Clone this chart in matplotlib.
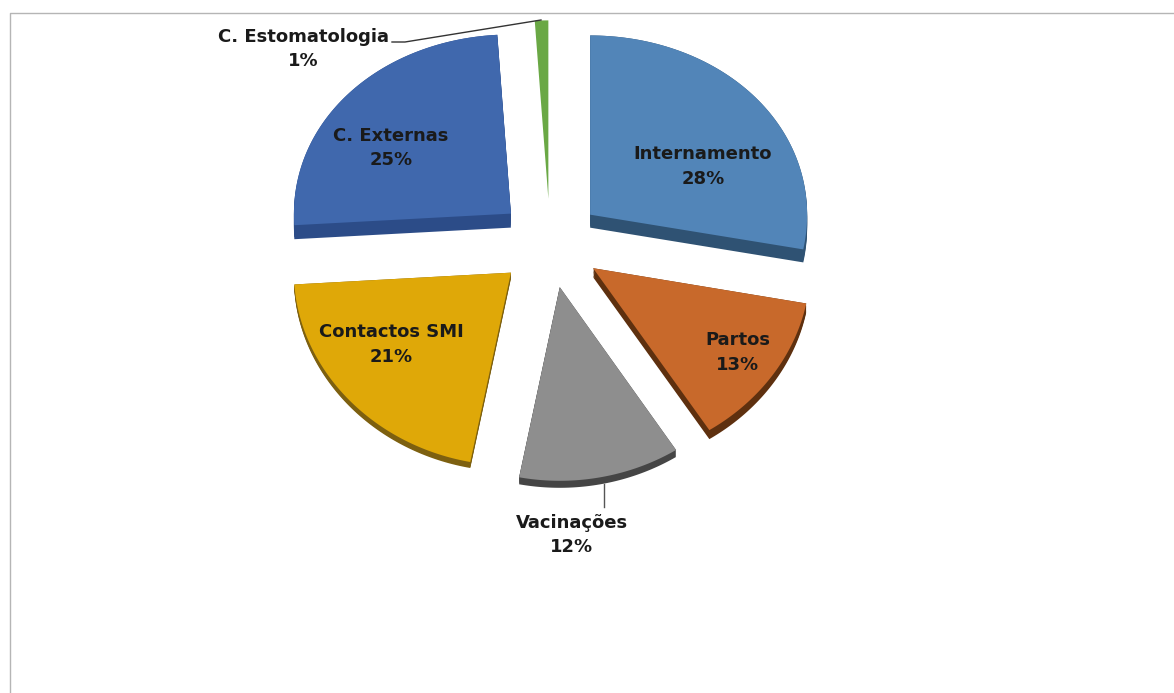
import numpy as np
import matplotlib
matplotlib.use('Agg')
import matplotlib.pyplot as plt

labels = ['Internamento', 'Partos', 'Vacinações', 'Contactos SMI', 'C. Externas', 'C. Estomatologia']
values = [28, 13, 12, 21, 25, 1]
colors = ['#5285b8', '#c8692b', '#8e8e8e', '#dfa808', '#4068ad', '#6aa845']
dark = ['#2f5273', '#5e300f', '#454545', '#7d6010', '#2c4c88', '#3c6527']
depths = [13, 9, 7, 6, 14, 0]

W, H = 1174, 693
fig = plt.figure(figsize=(W / 100, H / 100), dpi=100)
ax = fig.add_axes([0, 0, 1, 1])
ax.set_xlim(0, W)
ax.set_ylim(H, 0)
ax.axis('off')

# chart frame
ax.plot([10, 10, 1174], [693, 13, 13], color='#b5b5b5', lw=1)

cx, cy = 550, 243
rx, ry = 217, 186
explode = 0.24
persp = 0.028


def wedge_xy(a0, a1):
    mid = np.radians((a0 + a1) / 2)
    t = np.radians(np.linspace(a0, a1, 80))
    u = explode * np.sin(mid) + np.r_[0, np.sin(t)]
    v = -explode * np.cos(mid) + np.r_[0, -np.cos(t)]
    # nearer side of the tilted pie comes out a little bigger
    return cx + rx * u, cy + ry * v * (1 + persp * v)


total = sum(values)
a = 0.0
for v, col, dk, d in zip(values, colors, dark, depths):
    span = 360 * v / total
    x, y = wedge_xy(a, a + span)
    if d:
        for k in np.linspace(0, d, 8):
            ax.fill(x, y + k, color=dk, lw=0, zorder=2)
    ax.fill(x, y, color=col, lw=0, zorder=3)
    a += span

label_x = [703, 738, 572, 391, 391, 303]
label_y = [166.5, 352.5, 535, 344.5, 148, 49]
for name, v, lx, ly in zip(labels, values, label_x, label_y):
    ax.text(lx, ly, f'{name}\n{v}%', ha='center', va='center', fontsize=13,
            fontweight='bold', color='#1a1a1a', family='DejaVu Sans',
            linespacing=1.45, zorder=5)

# leader lines
ax.plot([604, 604], [484, 507], color='#555555', lw=1, zorder=4)
ax.plot([392, 405, 541], [42, 42, 20], color='#333333', lw=1, zorder=4)

fig.savefig('out.png', dpi=100)
